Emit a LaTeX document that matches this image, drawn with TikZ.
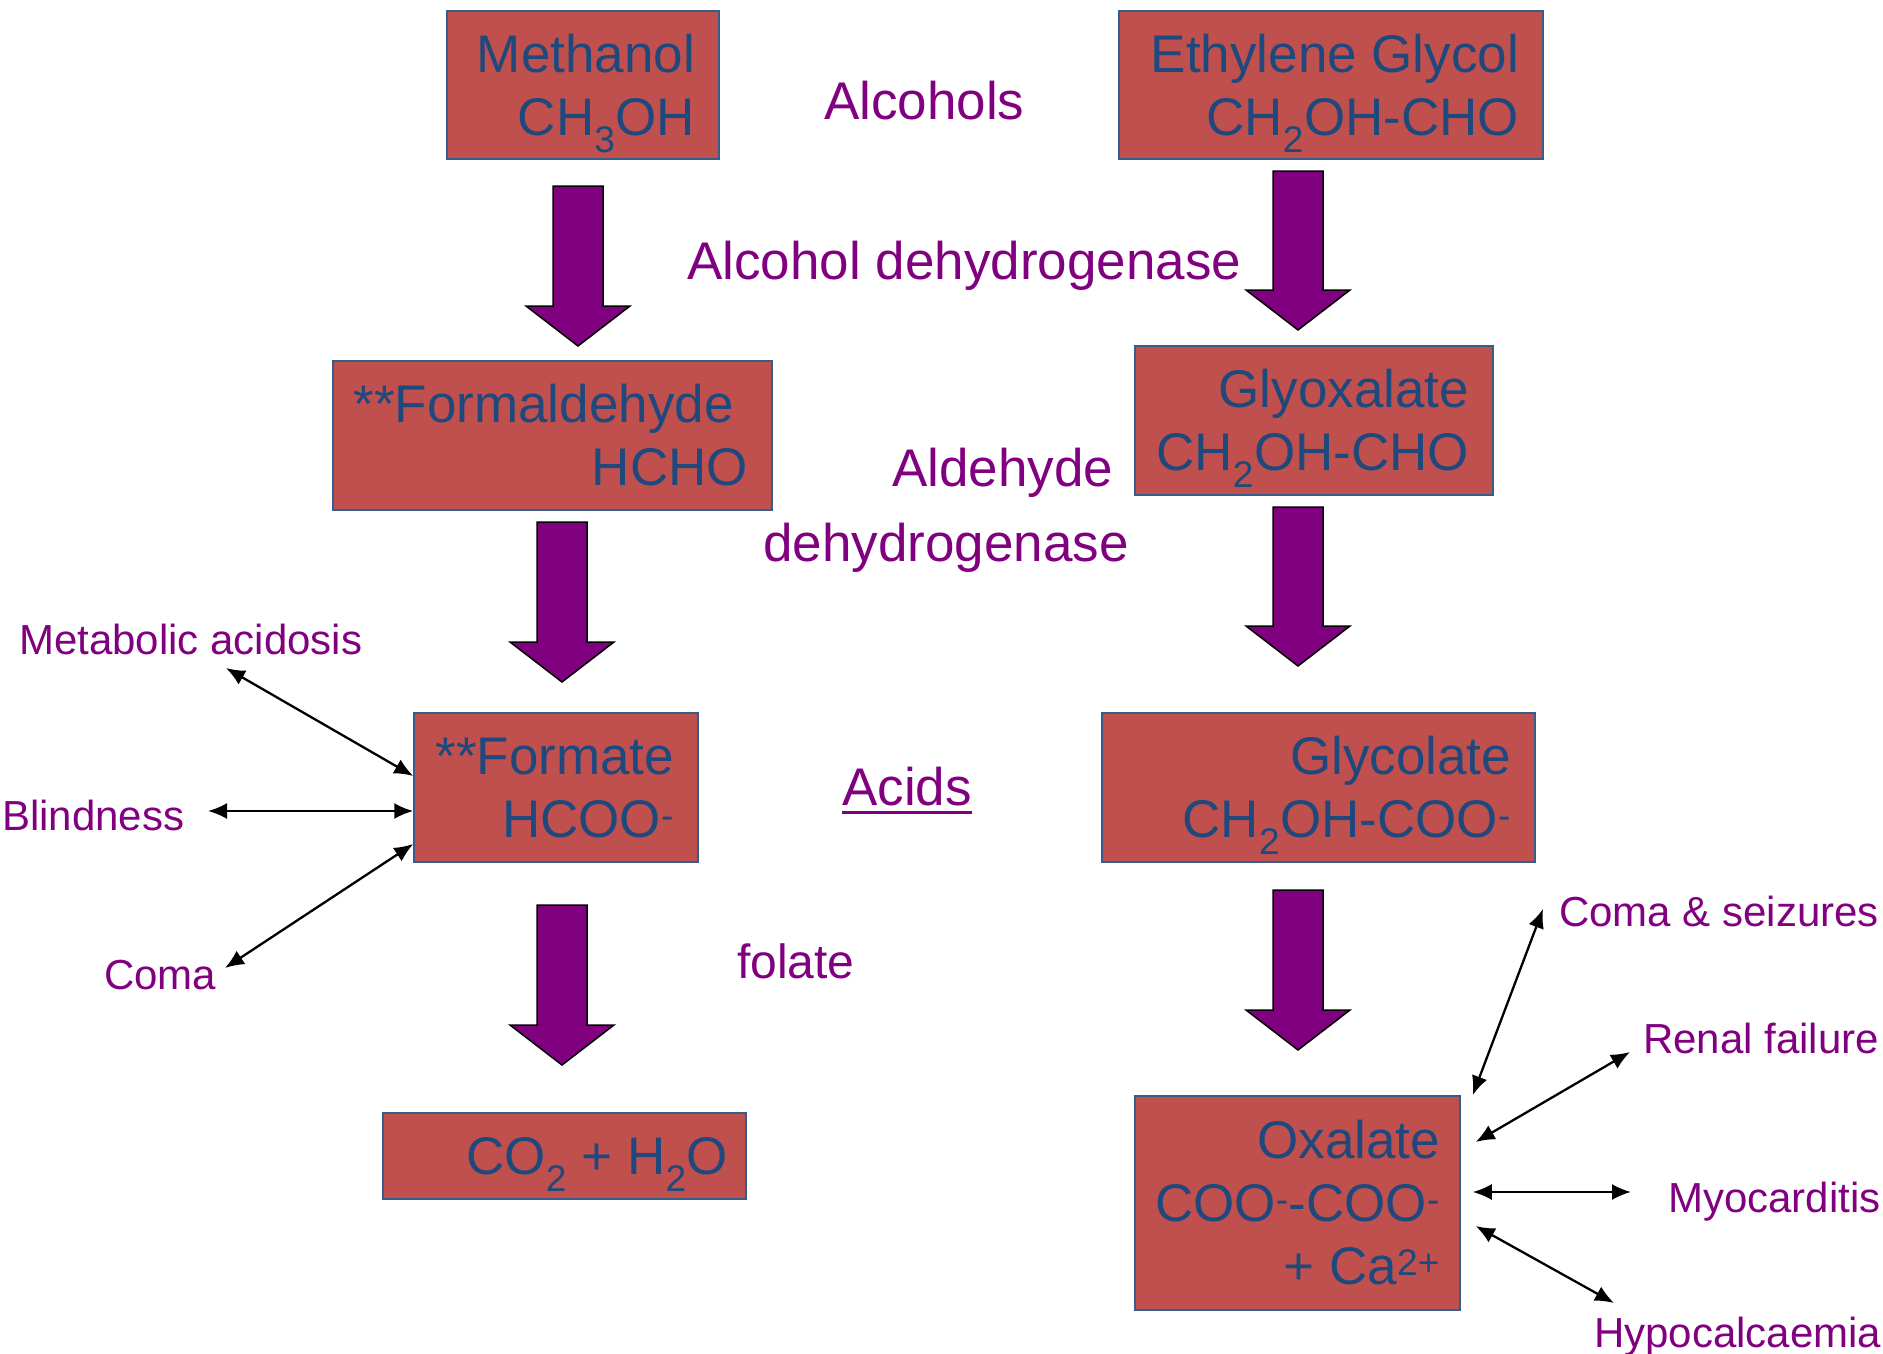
\documentclass[tikz,border=0pt]{standalone}
\usepackage{fontspec}
\setmainfont{Liberation Sans}
\usetikzlibrary{arrows.meta,calc}
\definecolor{boxred}{HTML}{C0504D}
\definecolor{boxline}{HTML}{385D8A}
\definecolor{boxblue}{HTML}{1F497D}
\definecolor{tagpurple}{HTML}{800080}
\newcommand\bigfont{\fontsize{53}{63}\selectfont}
\newcommand\smallfont{\fontsize{42}{50}\selectfont}
\newcommand\thickul[1]{\setbox0\hbox{#1}\rlap{\rule[-8.5pt]{\wd0}{3pt}}\box0}
% right-aligned lines in a box of fixed inner width
\newcommand\chemtext[2]{\raisebox{-6pt}[\height][\depth]{\makebox[#1][r]{\begin{tabular}{@{}r@{}}#2\end{tabular}}}}

\begin{document}
\begin{tikzpicture}[x=1pt,y=-1pt,
    chem/.style={draw=boxline,fill=boxred,line width=1.5pt,text=boxblue,font=\bigfont,inner xsep=24pt,inner ysep=0pt},
    heading/.style={text=tagpurple,font=\bigfont,anchor=base west,inner sep=0pt},
    effect/.style={text=tagpurple,font=\smallfont,anchor=base west,inner sep=0pt},
    fatarrow/.style={fill=tagpurple,draw=black,line width=1.5pt},
    twoway/.style={<->,>={Latex[length=19pt,width=16pt]},line width=2.3pt},
]
\useasboundingbox (0,0) rectangle (1883,1354);

% chemicals
\node[chem,minimum width=272pt,minimum height=148pt] (methanol) at (583,85)
    {\chemtext{224pt}{Methanol\\CH\textsubscript{3}OH}};
\node[chem,minimum width=424pt,minimum height=148pt] (glycol) at (1331,85)
    {\chemtext{376pt}{Ethylene Glycol\\CH\textsubscript{2}OH-CHO}};
\node[chem,minimum width=439pt,minimum height=149pt] (formald) at (552.5,435.5)
    {\chemtext{391pt}{**Formaldehyde\kern14.4pt\\HCHO}};
\node[chem,minimum width=358pt,minimum height=149pt] (glyox) at (1314,420.5)
    {\chemtext{310pt}{Glyoxalate\\CH\textsubscript{2}OH-CHO}};
\node[chem,minimum width=284pt,minimum height=149pt] (formate) at (556,787.5)
    {\chemtext{236pt}{**Formate\\HCOO\textsuperscript{-}}};
\node[chem,minimum width=433pt,minimum height=149pt] (glycolate) at (1318.5,787.5)
    {\chemtext{385pt}{Glycolate\\CH\textsubscript{2}OH-COO\textsuperscript{-}}};
\node[chem,minimum width=363pt,minimum height=86pt,inner xsep=18pt] (water) at (564.5,1156)
    {\chemtext{327pt}{CO\textsubscript{2} + H\textsubscript{2}O}};
\node[chem,minimum width=325pt,minimum height=214pt,inner xsep=20pt] (oxalate) at (1297.5,1203)
    {\chemtext{285pt}{Oxalate\\COO\textsuperscript{-}-COO\textsuperscript{-}\\+ Ca\textsuperscript{2+}}};

% big arrows
\foreach \cx/\ya/\yb in {578/186/346, 1298/171/330, 562/522/682, 1298/507/666, 562/905/1065, 1298/890/1050}
    \draw[fatarrow] (\cx-25,\ya) -- (\cx+25,\ya) -- (\cx+25,\yb-40) -- (\cx+52,\yb-40)
        -- (\cx,\yb) -- (\cx-52,\yb-40) -- (\cx-25,\yb-40) -- cycle;

% enzymes and classes
\node[heading] (alcohols) at (824,119) {Alcohols};
\node[heading] (adh) at (687,279) {Alcohol dehydrogenase};
\node[heading] (aldehyde) at (892,486) {Aldehyde};
\node[heading] (dehydro) at (763,561) {dehydrogenase};
\node[heading] (acids) at (842,805) {\thickul{Acids}};
\node[heading,font=\fontsize{48}{58}\selectfont] (folate) at (737,978) {folate};

% effects
\node[effect] (metacid) at (19,654) {Metabolic acidosis};
\node[effect] (blind) at (2,830) {Blindness};
\node[effect] (coma) at (104,989) {Coma};
\node[effect] (seizures) at (1559,926) {Coma \& seizures};
\node[effect] (renal) at (1643,1053) {Renal failure};
\node[effect] (myo) at (1668,1212) {Myocarditis};
\node[effect] (hypo) at (1594,1347) {Hypocalcaemia};

\coordinate (metacidend) at (226,668);
\coordinate (blindend) at (208,811);
\coordinate (comaend) at (225,968);
\coordinate (seizuresend) at (1543,909);
\coordinate (renalend) at (1630,1052);
\coordinate (myoend) at (1631,1192);
\coordinate (hypoend) at (1614,1303);

\draw[twoway] ($(formate.west)+(0,-11.5)$) -- (metacidend);
\draw[twoway] ($(formate.west)+(0,23.5)$) -- (blindend);
\draw[twoway] ($(formate.west)+(0,56.5)$) -- (comaend);
\draw[twoway] ($(oxalate.east)+(12,-108)$) -- (seizuresend);
\draw[twoway] ($(oxalate.east)+(15,-61)$) -- (renalend);
\draw[twoway] ($(oxalate.east)+(12,-11)$) -- (myoend);
\draw[twoway] ($(oxalate.east)+(15,23)$) -- (hypoend);
\end{tikzpicture}
\end{document}
